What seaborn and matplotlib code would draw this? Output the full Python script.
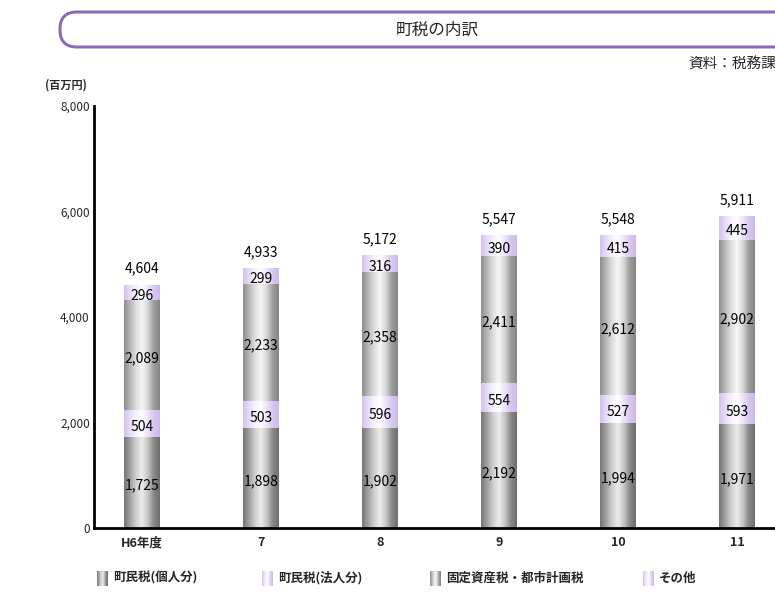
import matplotlib
matplotlib.use("Agg")
import matplotlib.pyplot as plt
import seaborn as sns
import pandas as pd
import numpy as np
from matplotlib.colors import LinearSegmentedColormap
from matplotlib.patches import FancyBboxPatch

# データ（単位：百万円）
years = ["H6年度", "7", "8", "9", "10", "11"]
kojin = [1725, 1898, 1902, 2192, 1994, 1971]     # 町民税(個人分)
houjin = [504, 503, 596, 554, 527, 593]          # 町民税(法人分)
kotei = [2089, 2233, 2358, 2411, 2612, 2902]     # 固定資産税・都市計画税
sonota = [296, 299, 316, 390, 415, 445]          # その他
totals = [4604, 4933, 5172, 5547, 5548, 5911]
series_names = ["町民税(個人分)", "町民税(法人分)", "固定資産税・都市計画税", "その他"]
y_ticks = [0, 2000, 4000, 6000, 8000]

sns.set_style("white")
plt.rcParams["font.family"] = ["Noto Sans CJK JP", "DejaVu Sans"]

df = pd.DataFrame({"年度": years,
                   series_names[0]: kojin,
                   series_names[1]: houjin,
                   series_names[2]: kotei,
                   series_names[3]: sonota})

# 円柱っぽいグラデーション
gray_dark = LinearSegmentedColormap.from_list(
    "g1", ["#767676", "#a2a2a2", "#cfcfcf", "#ececec", "#c6c6c6", "#8a8a8a", "#6e6e6e"])
gray_light = LinearSegmentedColormap.from_list(
    "g2", ["#8e8e8e", "#b8b8b8", "#dedede", "#f7f7f7", "#d6d6d6", "#9e9e9e", "#858585"])
lavender = LinearSegmentedColormap.from_list(
    "p1", ["#d4c2ee", "#e8dcf8", "#f6f2fd", "#ffffff", "#eee4fa", "#d8c8f0", "#ccbaea"])
cmaps = [gray_dark, lavender, gray_light, lavender]
grad = np.linspace(0, 1, 64).reshape(1, -1)

fig = plt.figure(figsize=(7.75, 5.95), dpi=100)
ax = fig.add_axes([94 / 775, 67 / 595, 681 / 775, 422 / 595])

bottom = np.zeros(len(years))
for name, cmap in zip(series_names, cmaps):
    n0 = len(ax.patches)
    sns.barplot(data=df, x="年度", y=name, bottom=bottom, ax=ax, color="#cccccc",
                width=0.295, linewidth=0, edgecolor="none", zorder=1)
    for p in ax.patches[n0:]:
        x0, y0 = p.get_xy()
        w, h = p.get_width(), p.get_height()
        im = ax.imshow(grad, cmap=cmap, extent=[x0, x0 + w, y0, y0 + h],
                       aspect="auto", interpolation="bilinear", zorder=2)
        im.set_clip_path(p)
    vals = df[name].values
    for i, v in enumerate(vals):
        ax.text(i, bottom[i] + v / 2 - 60, f"{v:,}", ha="center", va="center",
                fontsize=10, color="black", zorder=4)
    bottom = bottom + vals

for i, t in enumerate(totals):
    ax.text(i, bottom[i] + 170, f"{t:,}", ha="center", va="bottom",
            fontsize=10, color="black", zorder=4)

ax.set_xlim(-0.403, 5.32)
ax.set_ylim(0, 8000)
ax.set_yticks(y_ticks)
ax.set_yticklabels([f"{t:,}" for t in y_ticks], fontsize=8.5)
ax.set_xlabel("")
ax.set_ylabel("")
ax.tick_params(axis="y", direction="in", length=5, width=1.5, pad=3)
ax.tick_params(axis="x", length=0, pad=6, labelsize=9)
for lab in ax.get_xticklabels():
    lab.set_fontweight("bold")
sns.despine(ax=ax, top=True, right=True)
ax.spines["left"].set_linewidth(2)
ax.spines["bottom"].set_linewidth(2)
ax.spines["left"].set_color("black")
ax.spines["bottom"].set_color("black")
ax.set_facecolor("none")

# 装飾（タイトル枠・出典・単位・凡例）をピクセル座標で
deco = fig.add_axes([0, 0, 1, 1])
deco.set_xlim(0, 775)
deco.set_ylim(595, 0)
deco.axis("off")
deco.patch.set_alpha(0)

box = FancyBboxPatch((60, 12), 780, 35, boxstyle="round,pad=0,rounding_size=17",
                     ec="#8b6bb8", fc="white", lw=2.2)
deco.add_patch(box)
deco.text(437, 30, "町税の内訳", ha="center", va="center", fontsize=12)
deco.text(688, 64, "資料：税務課", ha="left", va="center", fontsize=10.5)
deco.text(66, 85, "(百万円)", ha="center", va="center", fontsize=8, fontweight="bold")

legend_x = [97, 262, 430, 643]
legend_cmaps = [gray_dark, lavender, gray_light, lavender]
for lx, name, cmap in zip(legend_x, series_names, legend_cmaps):
    deco.imshow(grad, cmap=cmap, extent=[lx, lx + 11, 586, 571],
                aspect="auto", interpolation="bilinear")
    deco.text(lx + 16, 578, name, ha="left", va="center", fontsize=9, fontweight="bold")
deco.set_xlim(0, 775)
deco.set_ylim(595, 0)

fig.savefig("out.png", dpi=100)
